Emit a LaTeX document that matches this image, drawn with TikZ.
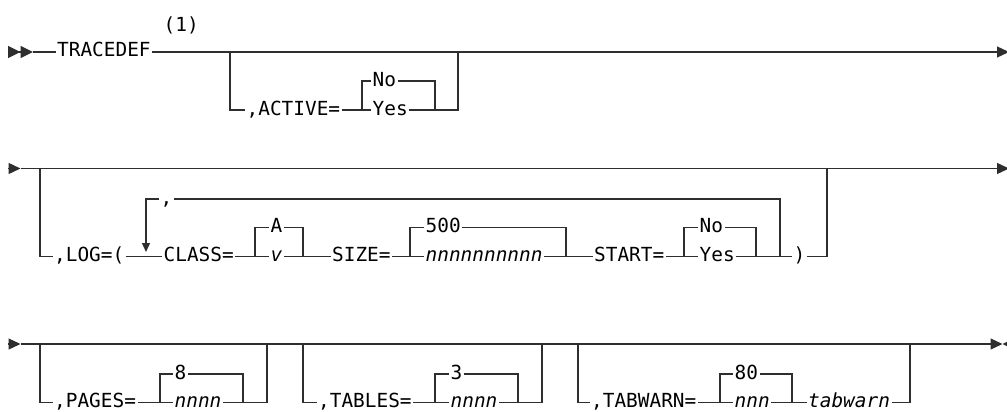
\documentclass[tikz,border=0pt]{standalone}
\usepackage{fontspec}
\setmonofont{DejaVu Sans Mono}
\usetikzlibrary{arrows.meta}
\definecolor{railgray}{HTML}{2E2E2E}
\def\rowa{52}
\def\rowb{168.5}
\def\rowc{344}
\tikzset{
   railtext/.style={inner xsep=1.5pt, inner ysep=0pt, text height=14pt, text depth=4pt, anchor=west,
                    font=\ttfamily\fontsize{19.4}{22}\selectfont, text=black},
   railline/.style={draw=railgray, line width=1.3pt},
   railtip/.style={-{Triangle[length=12pt, width=11pt]}},
   railtwotip/.style={-{Triangle[length=12.5pt, width=12pt] Triangle[length=12.5pt, width=12pt]}},
   raildown/.style={-{Triangle[length=9pt, width=8pt]}, shorten >=4.5pt}
}

\begin{document}
\begin{tikzpicture}[x=1pt, y=-1pt]
\useasboundingbox (0,0) rectangle (1007,412);

% choice blocks: name / left / right / text x / top row / bottom row / top text / bottom text
\foreach \nm/\xl/\xr/\tx/\yt/\yb/\ta/\tb in {
    act/362/435/371/81/110/No/Yes,
    cls/255/303/269/227.3/256.5/A/\textit{v},
    siz/410/566/424/227.3/256.5/500/\textit{nnnnnnnnnn},
    sta/684/756/698/227.3/256.5/No/Yes,
    pag/160/243/173/374/402.7/8/\textit{nnnn},
    tab/435/518/449/374/402.7/3/\textit{nnnn},
    tw/720/792/733/374/402.7/80/\textit{nnn}} {
    \node[railtext] (\nm-a) at (\tx,\yt) {\ta};
    \node[railtext] (\nm-b) at (\tx,\yb) {\tb};
    \coordinate (\nm-l) at (\xl,\yb);
    \coordinate (\nm-r) at (\xr,\yb);
    \draw[railline] (\nm-l) |- (\nm-a.west);
    \draw[railline] (\nm-a.east) -| (\nm-r);
    \draw[railline] (\nm-l) -- (\nm-b.west);
    \draw[railline] (\nm-b.east) -- (\nm-r);
}

% row 1
\coordinate (start1) at (8,\rowa);
\coordinate (head1) at (33,\rowa);
\coordinate (end1) at (1009,\rowa);
\coordinate (actL) at (230,\rowa);
\coordinate (actR) at (458,\rowa);
\node[railtext] (tracedef) at (55.5,\rowa) {TRACEDEF};
\node[railtext] (note) at (162,26.5) {(1)};
\node[railtext] (active) at (245,110) {,ACTIVE=};
\draw[railline, railtwotip] (start1) -- (head1);
\draw[railline] (head1) -- (tracedef.west);
\draw[railline, railtip] (tracedef.east) -- (end1);
\draw[railline] (actL) |- (active.west);
\draw[railline] (active.east) -- (act-l);
\draw[railline] (act-r) -| (actR);

% row 2
\coordinate (start2) at (8,\rowb);
\coordinate (head2) at (20.5,\rowb);
\coordinate (end2) at (1009,\rowb);
\coordinate (logL) at (40,\rowb);
\coordinate (logR) at (827,\rowb);
\coordinate (loopL) at (146,256.5);
\coordinate (loopR) at (780,256.5);
\node[railtext] (log) at (52.5,256.5) {,LOG=(};
\node[railtext] (class) at (162,256.5) {CLASS=};
\node[railtext] (size) at (330.5,256.5) {SIZE=};
\node[railtext] (start) at (592.5,256.5) {START=};
\node[railtext] (close) at (792,256.5) {)};
\node[railtext] (sep) at (159,199) {,};
\draw[railline, railtip] (start2) -- (head2);
\draw[railline, railtip] (head2) -- (end2);
\draw[railline] (logL) |- (log.west);
\draw[railline] (log.east) -- (class.west);
\draw[railline] (class.east) -- (cls-l);
\draw[railline] (cls-r) -- (size.west);
\draw[railline] (size.east) -- (siz-l);
\draw[railline] (siz-r) -- (start.west);
\draw[railline] (start.east) -- (sta-l);
\draw[railline] (sta-r) -- (close.west);
\draw[railline] (close.east) -| (logR);
\draw[railline] (loopR) |- (sep.east);
\draw[railline, raildown] (sep.west) -| (loopL);

% row 3
\coordinate (start3) at (8,\rowc);
\coordinate (head3) at (20.5,\rowc);
\coordinate (end3) at (1002.5,\rowc);
\coordinate (stop3) at (1014.5,\rowc);
\coordinate (pagL) at (40,\rowc);
\coordinate (pagR) at (267,\rowc);
\coordinate (tabL) at (303,\rowc);
\coordinate (tabR) at (542,\rowc);
\coordinate (twL) at (578,\rowc);
\coordinate (twR) at (910,\rowc);
\node[railtext] (pages) at (52.5,402.7) {,PAGES=};
\node[railtext] (tables) at (316.5,402.7) {,TABLES=};
\node[railtext] (tabwarn) at (589.5,402.7) {,TABWARN=};
\node[railtext] (twvalue) at (806.5,402.7) {\textit{tabwarn}};
\draw[railline, railtip] (start3) -- (head3);
\draw[railline, railtip] (head3) -- (end3);
\draw[railline, railtip] (stop3) -- (end3);
\draw[railline] (pagL) |- (pages.west);
\draw[railline] (pages.east) -- (pag-l);
\draw[railline] (pag-r) -| (pagR);
\draw[railline] (tabL) |- (tables.west);
\draw[railline] (tables.east) -- (tab-l);
\draw[railline] (tab-r) -| (tabR);
\draw[railline] (twL) |- (tabwarn.west);
\draw[railline] (tabwarn.east) -- (tw-l);
\draw[railline] (tw-r) -- (twvalue.west);
\draw[railline] (twvalue.east) -| (twR);
\end{tikzpicture}
\end{document}
